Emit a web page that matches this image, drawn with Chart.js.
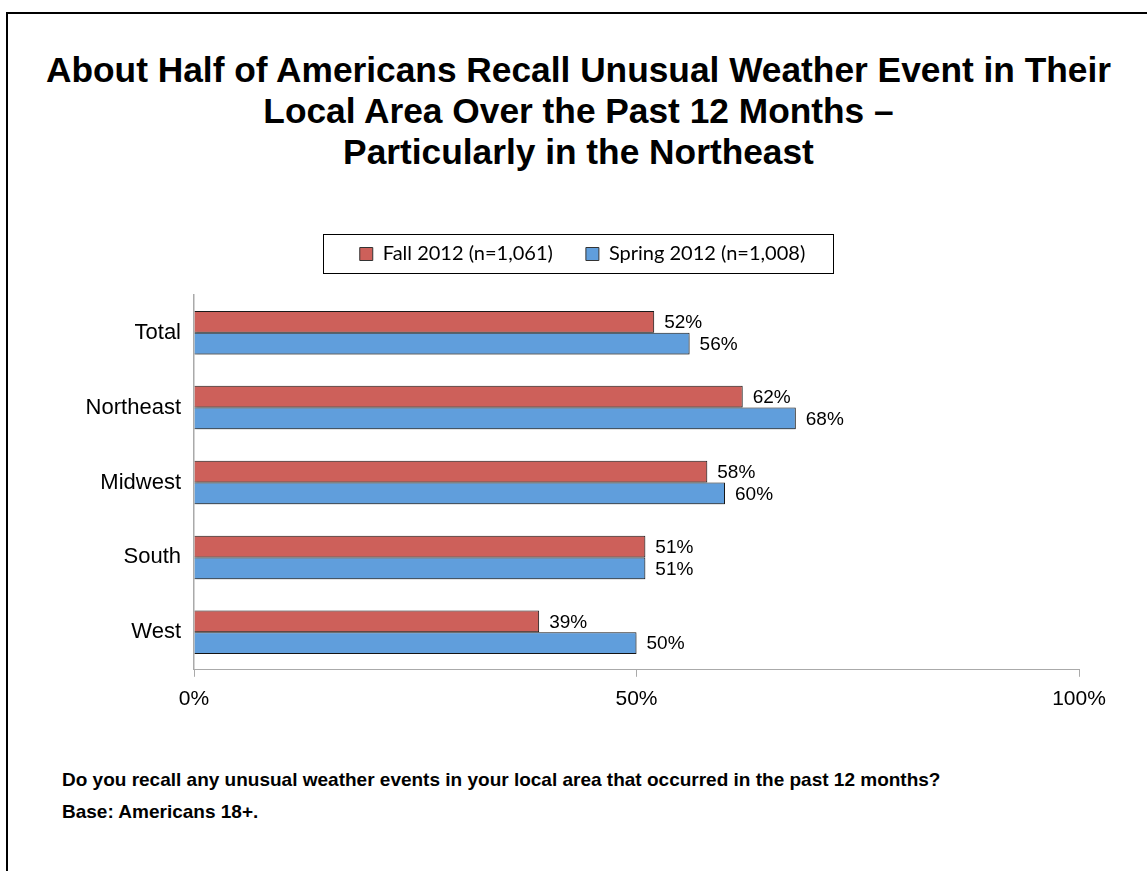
<!DOCTYPE html>
<html>
<head>
<meta charset="utf-8">
<script src="https://cdn.jsdelivr.net/npm/chart.js@4"></script>
<style>
  body { margin: 0; background: #fff; width: 1147px; height: 871px; overflow: hidden; position: relative; font-family: "Liberation Sans", Arial, sans-serif; }
  .frame { position: absolute; left: 6px; top: 12px; width: 1200px; height: 900px; border: 2px solid #000; box-sizing: border-box; }
  .title { position: absolute; left: 0; top: 49px; width: 1157px; text-align: center; font-weight: bold; font-size: 35.3px; line-height: 41px; color: #000; }
  .note { position: absolute; left: 62px; font-weight: bold; font-size: 19px; line-height: 22px; color: #000; }
  #wrap { position: absolute; left: 0; top: 211px; width: 1147px; height: 518px; }
</style>
</head>
<body>
<div class="frame"></div>
<div class="title">About Half of Americans Recall Unusual Weather Event in Their<br>Local Area Over the Past 12 Months –<br>Particularly in the Northeast</div>
<div id="wrap"><canvas id="weather"></canvas></div>
<div class="note" style="top:769px">Do you recall any unusual weather events in your local area that occurred in the past 12 months?</div>
<div class="note" style="top:801px">Base: Americans 18+.</div>
<script>
const regions = ['Total', 'Northeast', 'Midwest', 'South', 'West'];
const fall2012 = [52, 62, 58, 51, 39];
const spring2012 = [56, 68, 60, 51, 50];
const seriesNames = ['Fall 2012 (n=1,061)', 'Spring 2012 (n=1,008)'];
const xTicks = [0, 50, 100];

// value labels just past the end of each bar
const valueLabels = {
  id: 'valueLabels',
  afterDatasetsDraw(chart) {
    const ctx = chart.ctx;
    ctx.save();
    ctx.font = '19px "Liberation Sans", Arial, sans-serif';
    ctx.fillStyle = '#000';
    ctx.textBaseline = 'middle';
    chart.data.datasets.forEach((ds, i) => {
      chart.getDatasetMeta(i).data.forEach((bar, j) => {
        ctx.fillText(ds.data[j] + '%', bar.x + 10, bar.y + 1);
      });
    });
    ctx.restore();
  }
};

// soft drop shadow under the bars, like the original slide
const barShadow = {
  id: 'barShadow',
  beforeDatasetsDraw(chart) {
    const ctx = chart.ctx;
    ctx.save();
    ctx.shadowColor = 'rgba(0,0,0,0.35)';
    ctx.shadowBlur = 3;
    ctx.shadowOffsetY = 2;
  },
  afterDatasetsDraw(chart) {
    chart.ctx.restore();
  }
};

// box around the legend items
const legendBox = {
  id: 'legendBox',
  afterDraw(chart) {
    const boxes = chart.legend.legendHitBoxes;
    if (!boxes || !boxes.length) return;
    const left = Math.min(...boxes.map(b => b.left)) - 37;
    const right = Math.max(...boxes.map(b => b.left + b.width)) + 28;
    const mid = boxes[0].top + boxes[0].height / 2;
    const ctx = chart.ctx;
    ctx.save();
    ctx.strokeStyle = '#000';
    ctx.lineWidth = 1;
    ctx.strokeRect(Math.round(left) + 0.5, Math.round(mid - 20) + 0.5, Math.round(right - left), 39);
    ctx.restore();
  }
};

new Chart(document.getElementById('weather'), {
  type: 'bar',
  data: {
    labels: regions,
    datasets: [
      {
        label: seriesNames[0],
        data: fall2012,
        backgroundColor: '#cd605a',
        borderColor: '#1a1a1a',
        borderWidth: 1,
        borderSkipped: 'left'
      },
      {
        label: seriesNames[1],
        data: spring2012,
        backgroundColor: '#609edc',
        borderColor: '#1a1a1a',
        borderWidth: 1,
        borderSkipped: 'left'
      }
    ]
  },
  options: {
    indexAxis: 'y',
    responsive: true,
    maintainAspectRatio: false,
    animation: false,
    categoryPercentage: 0.58,
    barPercentage: 1.0,
    layout: { padding: { left: 86, right: 68, bottom: 7, top: 0 } },
    plugins: {
      tooltip: { enabled: false },
      // empty title used as a spacer between legend and bars
      title: {
        display: true,
        text: ' ',
        weight: 100,
        font: { size: 1 },
        padding: { top: 0, bottom: 20 }
      },
      legend: {
        position: 'top',
        labels: {
          font: { family: 'Lato, "Open Sans", sans-serif', size: 20 },
          color: '#000',
          boxWidth: 13,
          boxHeight: 13,
          padding: 33,
          generateLabels(chart) {
            return chart.data.datasets.map((ds, i) => ({
              text: ds.label,
              fillStyle: ds.backgroundColor,
              strokeStyle: '#333',
              lineWidth: 1,
              datasetIndex: i
            }));
          }
        }
      }
    },
    scales: {
      x: {
        min: 0,
        max: 100,
        afterBuildTicks(axis) {
          axis.ticks = xTicks.map(v => ({ value: v }));
        },
        grid: { drawOnChartArea: false, drawTicks: true, tickLength: 7, color: '#aaa' },
        border: { color: '#aaa', width: 1 },
        ticks: {
          callback: v => v + '%',
          font: { family: '"Liberation Sans", Arial, sans-serif', size: 21 },
          color: '#000',
          padding: 10,
          maxRotation: 0
        }
      },
      y: {
        afterFit(axis) { axis.width = 108; },
        grid: { display: false, drawTicks: false },
        border: { color: '#aaa', width: 1.5 },
        ticks: {
          font: { family: '"Liberation Sans", Arial, sans-serif', size: 22 },
          color: '#000',
          padding: 13
        }
      }
    }
  },
  plugins: [barShadow, valueLabels, legendBox]
});
</script>
</body>
</html>
